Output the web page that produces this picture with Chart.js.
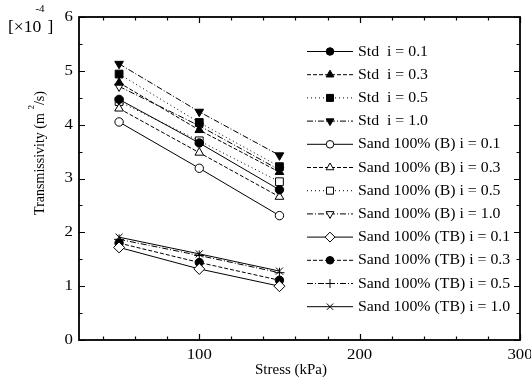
<!DOCTYPE html>
<html><head><meta charset="utf-8">
<script src="https://cdn.jsdelivr.net/npm/chart.js@4"></script>
<style>html,body{margin:0;padding:0;background:#fff}#wrap{width:531px;height:378px}</style>
</head><body><div id="wrap"><canvas id="c" width="531" height="378"></canvas></div>
<script>
// ---- data ----
const stress = [50, 100, 150];
const labels = ["Std  i = 0.1","Std  i = 0.3","Std  i = 0.5","Std  i = 1.0",
  "Sand 100% (B) i = 0.1","Sand 100% (B) i = 0.3","Sand 100% (B) i = 0.5","Sand 100% (B) i = 1.0",
  "Sand 100% (TB) i = 0.1","Sand 100% (TB) i = 0.3","Sand 100% (TB) i = 0.5","Sand 100% (TB) i = 1.0"];
const std01 = [4.47, 3.66, 2.79];
const std03 = [4.78, 3.90, 3.12];
const std05 = [4.94, 4.04, 3.22];
const std10 = [5.13, 4.24, 3.43];
const b01 = [4.05, 3.19, 2.31];
const b03 = [4.30, 3.48, 2.66];
const b05 = [4.43, 3.70, 2.94];
const b10 = [4.71, 3.98, 3.16];
const tb01 = [1.72, 1.32, 1.00];
const tb03 = [1.80, 1.44, 1.11];
const tb05 = [1.87, 1.57, 1.25];
const tb10 = [1.91, 1.60, 1.28];
const xTicks = [100, 200, 300];
const yTicks = [0, 1, 2, 3, 4, 5, 6];

const series = [std01,std03,std05,std10,b01,b03,b05,b10,tb01,tb03,tb05,tb10];
// styles
const SOLID=[], DASH=[4,2], DOT=[1,3], DASHDOT=[6,2,1,2];
const styles = [
  {ps:'circle',  fill:true,  dash:SOLID,   rot:0},
  {ps:'triangle',fill:true,  dash:DASH,    rot:0},
  {ps:'rect',    fill:true,  dash:DOT,     rot:0},
  {ps:'triangle',fill:true,  dash:DASHDOT, rot:180},
  {ps:'circle',  fill:false, dash:SOLID,   rot:0},
  {ps:'triangle',fill:false, dash:DASH,    rot:0},
  {ps:'rect',    fill:false, dash:DOT,     rot:0},
  {ps:'triangle',fill:false, dash:DASHDOT, rot:180},
  {ps:'rectRot', fill:false, dash:SOLID,   rot:0},
  {ps:'circle',  fill:true,  dash:DASH,    rot:0},
  {ps:'cross',   fill:false, dash:DASHDOT, rot:0},
  {ps:'crossRot',fill:false, dash:SOLID,   rot:0}
];
function radiusFor(s){ return s.ps==='rect'?5.5:(s.ps==='triangle'?5:(s.ps==='rectRot'?5.5:(s.ps.indexOf('cross')===0?5:4.2))); }

const datasets = series.map((vals,i)=>{
  const s = styles[i];
  return {
    label: labels[i],
    data: stress.map((x,j)=>({x:x,y:vals[j]})),
    borderColor:'#000', borderWidth:1, borderDash:s.dash,
    pointStyle:s.ps, pointRotation:s.rot, pointRadius:radiusFor(s),
    pointBackgroundColor: s.fill?'#000':'#fff', pointBorderColor:'#000', pointBorderWidth:1,
    fill:false, tension:0
  };
});

const SERIF = '"Liberation Serif","Times New Roman",serif';
function stretchText(ctx, txt, x, y, align, size, sx){
  ctx.save();
  ctx.font = size+'px '+SERIF;
  const w = ctx.measureText(txt).width*sx;
  let x0 = x;
  if(align==='center') x0 = x - w/2; else if(align==='right') x0 = x - w;
  ctx.translate(x0, y); ctx.scale(sx,1);
  ctx.textAlign='left';
  ctx.fillText(txt, 0, 0);
  ctx.restore();
  return w;
}

const decor = {
  id:'decor',
  afterDraw(chart){
    const ctx = chart.ctx, a = chart.chartArea;
    const xs = chart.scales.x, ys = chart.scales.y;
    ctx.save();
    ctx.strokeStyle='#000'; ctx.fillStyle='#000'; ctx.setLineDash([]);
    // frame
    ctx.lineWidth=1.8;
    ctx.strokeRect(a.left, a.top, a.right-a.left, a.bottom-a.top);
    ctx.lineWidth=1.2;
    // x ticks
    ctx.beginPath();
    for(let v=40; v<=300; v+=20){
      const px = Math.round(xs.getPixelForValue(v))+0.5;
      const L = (v%100===0)?6:3.5;
      ctx.moveTo(px,a.bottom); ctx.lineTo(px,a.bottom-L);
      ctx.moveTo(px,a.top); ctx.lineTo(px,a.top+L);
    }
    for(let v=0; v<=6.001; v+=0.5){
      const py = Math.round(ys.getPixelForValue(v))+0.5;
      const L = (Math.abs(v-Math.round(v))<1e-6)?6:3.5;
      ctx.moveTo(a.left,py); ctx.lineTo(a.left+L,py);
      ctx.moveTo(a.right,py); ctx.lineTo(a.right-L,py);
    }
    ctx.stroke();
    // tick labels
    ctx.textBaseline='middle';
    xTicks.forEach(v=>{ stretchText(ctx, String(v), xs.getPixelForValue(v), a.bottom+15, 'center', 15, 1.12); });
    yTicks.forEach(v=>{ stretchText(ctx, String(v), a.left-6, ys.getPixelForValue(v), 'right', 15, 1.12); });
    // x title
    stretchText(ctx, 'Stress (kPa)', 291, 370, 'center', 14, 1.07);
    // exponent label
    const wb = stretchText(ctx, '[\u00D710', 8, 28, 'left', 16, 1.1);
    stretchText(ctx, '-4', 8+wb-6, 9, 'left', 10, 1.1);
    stretchText(ctx, ']', 8+wb+6, 28, 'left', 16, 1.1);
    // y title rotated
    ctx.save();
    ctx.translate(40, 153); ctx.rotate(-Math.PI/2);
    ctx.font = '14px '+SERIF;
    const p1='Transmissivity (m ', p3='/s)';
    const w1=ctx.measureText(p1).width, w3=ctx.measureText(p3).width;
    ctx.font='9px '+SERIF; const w2=ctx.measureText('2').width;
    let x0 = -(w1+w2+w3)/2;
    ctx.textAlign='left'; ctx.textBaseline='middle';
    ctx.font='14px '+SERIF; ctx.fillText(p1,x0,0);
    ctx.font='9px '+SERIF; ctx.fillText('2',x0+w1,-8);
    ctx.font='14px '+SERIF; ctx.fillText(p3,x0+w1+w2,0);
    ctx.restore();
    // legend
    chart.data.datasets.forEach((ds,i)=>{
      const y = 51 + i*23.2;
      ctx.save();
      ctx.lineWidth=1; ctx.strokeStyle='#000';
      ctx.setLineDash(ds.borderDash);
      ctx.beginPath(); ctx.moveTo(307,y+0.5); ctx.lineTo(353,y+0.5); ctx.stroke();
      ctx.setLineDash([]);
      ctx.fillStyle = ds.pointBackgroundColor; ctx.strokeStyle='#000';
      const r = ds.pointRadius*0.9;
      Chart.helpers.drawPoint(ctx,{pointStyle:ds.pointStyle, rotation:ds.pointRotation, radius:r, borderWidth:1}, 330, y+0.5);
      ctx.fillStyle='#000'; ctx.textBaseline='middle';
      stretchText(ctx, ds.label, 358, y+1, 'left', 14, 1.13);
      ctx.restore();
    });
    ctx.restore();
  }
};

new Chart(document.getElementById('c'), {
  type:'line',
  data:{datasets:datasets},
  options:{
    responsive:false, animation:false, devicePixelRatio:1,
    layout:{padding:{top:17,right:11,left:0,bottom:0}},
    plugins:{legend:{display:false}, tooltip:{enabled:false}},
    scales:{
      x:{type:'linear', min:25, max:300,
         afterBuildTicks(s){ s.ticks = xTicks.map(v=>({value:v})); },
         afterFit(s){ s.height=38; },
         ticks:{display:false}, grid:{display:false}, border:{display:false}},
      y:{type:'linear', min:0, max:6,
         afterBuildTicks(s){ s.ticks = yTicks.map(v=>({value:v})); },
         afterFit(s){ s.width=79; },
         ticks:{display:false}, grid:{display:false}, border:{display:false}}
    }
  },
  plugins:[decor]
});
</script></body></html>
